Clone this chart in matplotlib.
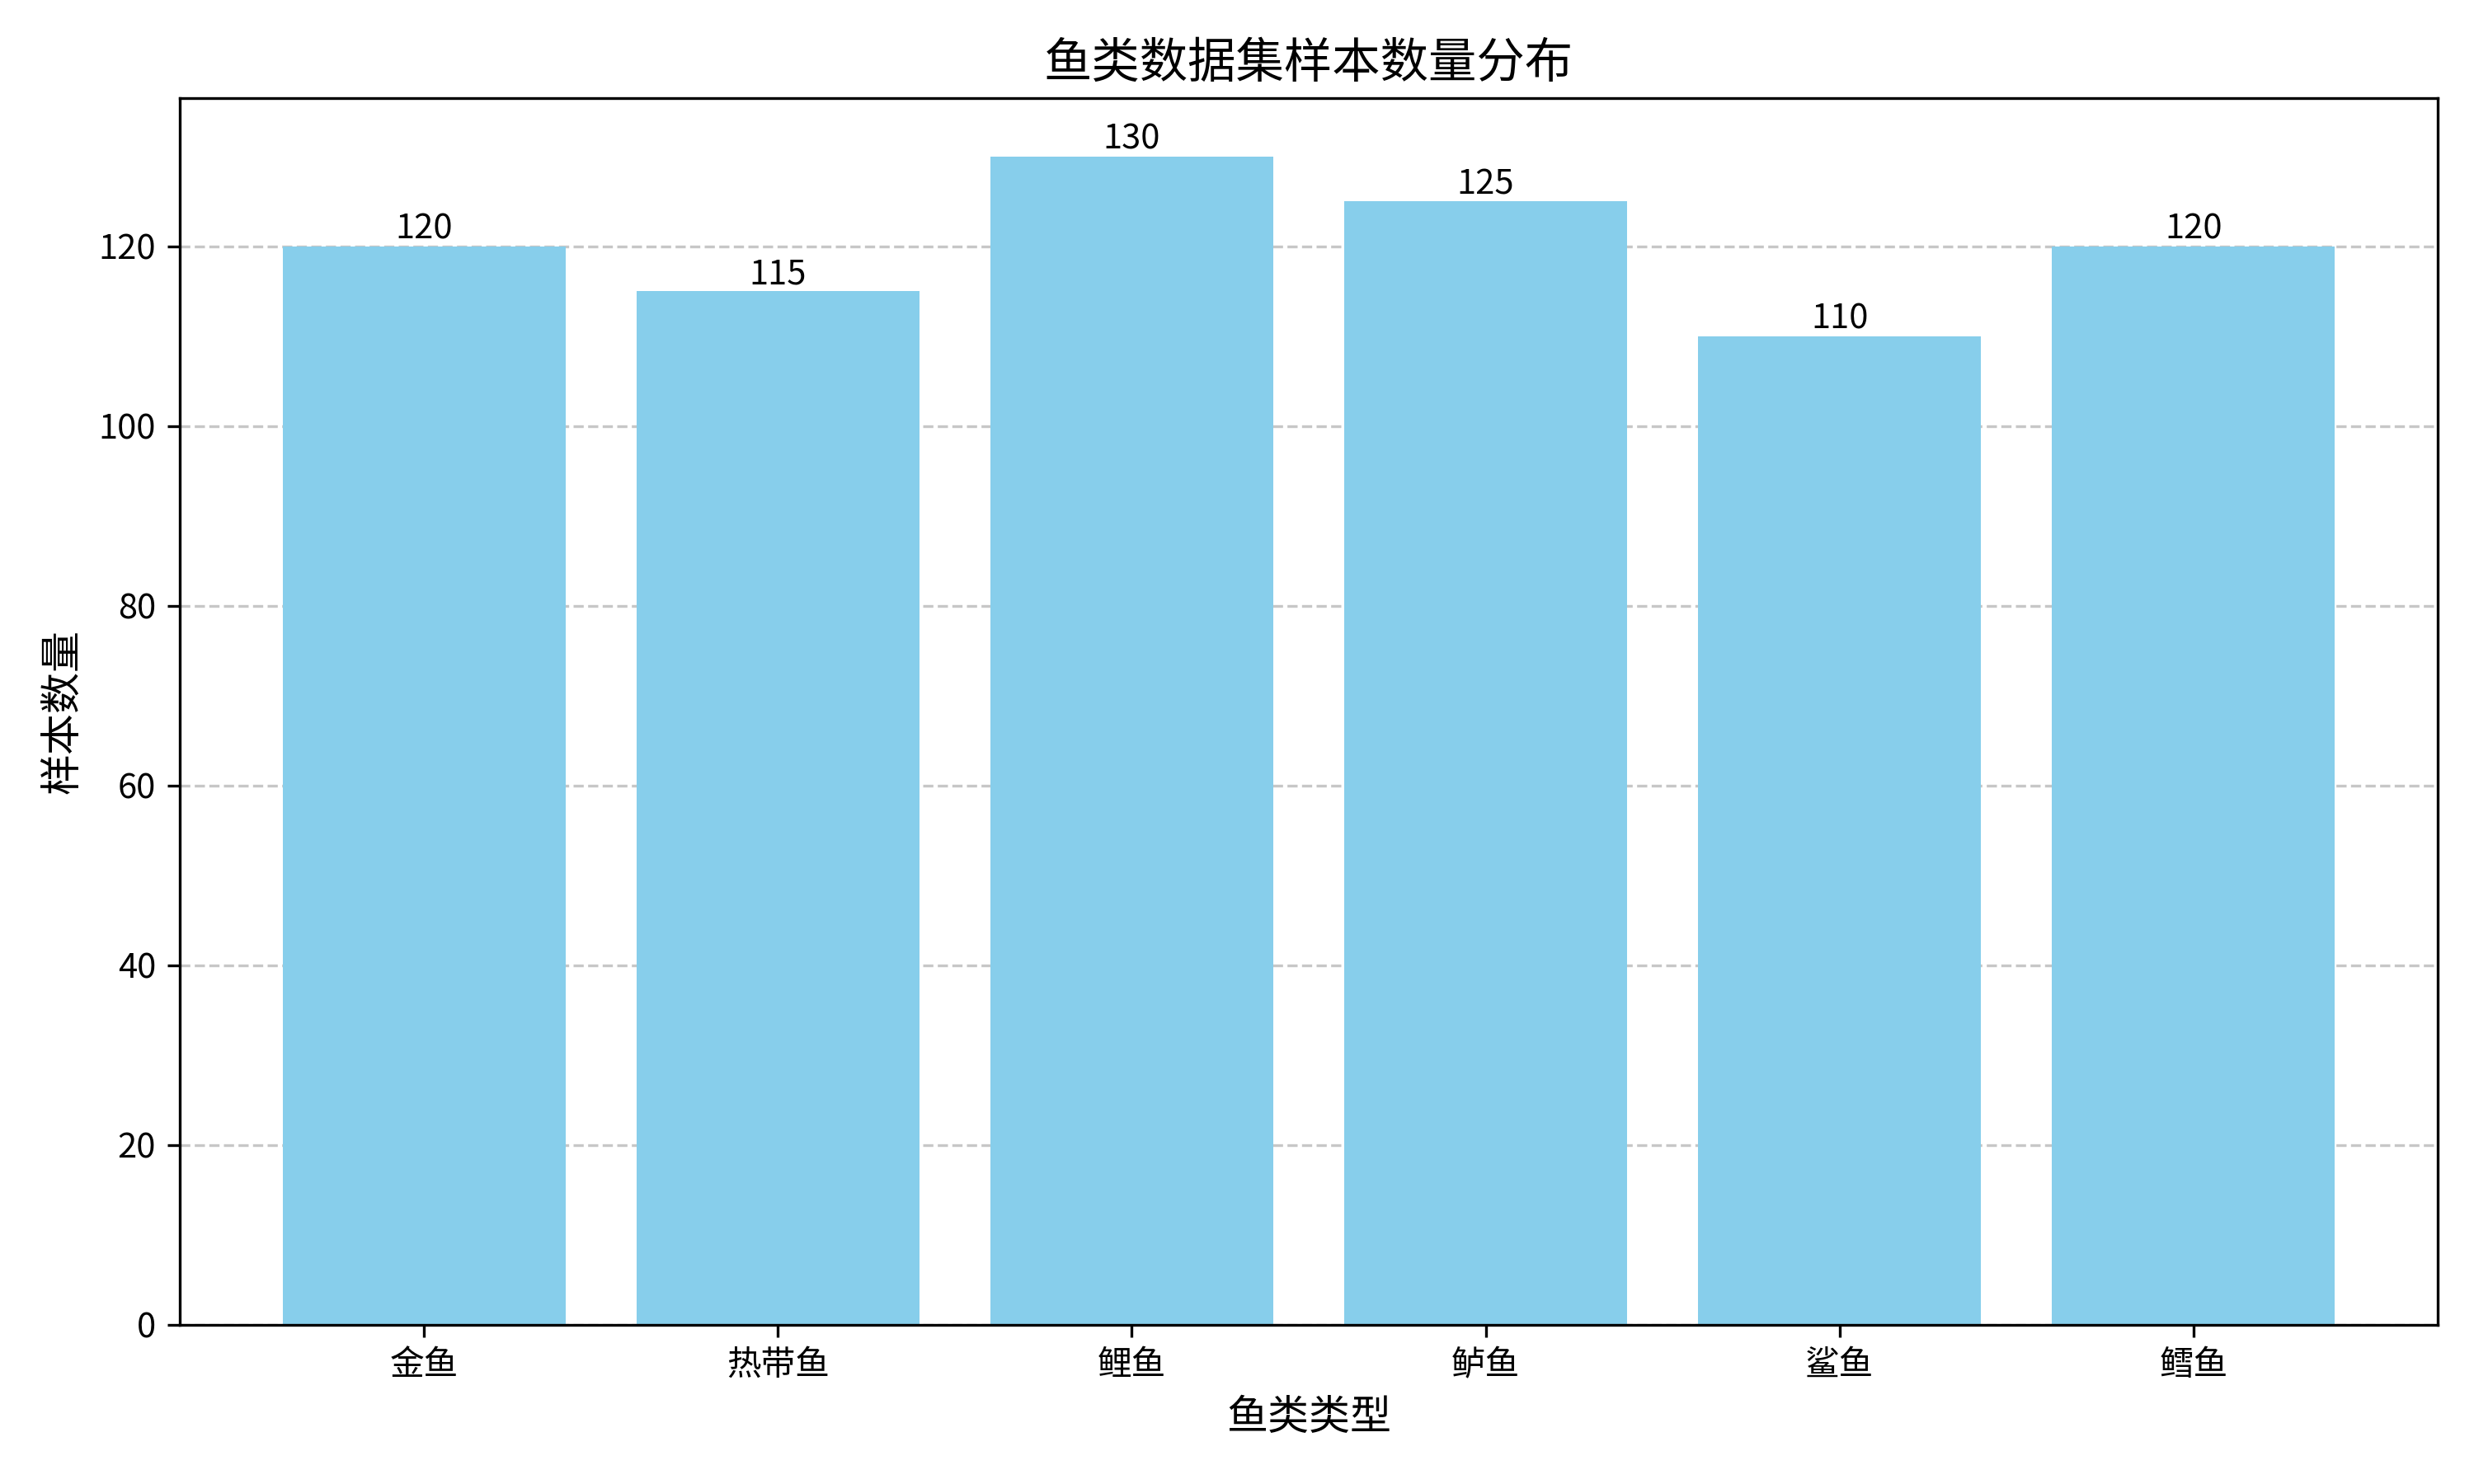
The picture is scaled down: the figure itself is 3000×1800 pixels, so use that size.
"""Fish dataset sample count bar chart."""

import matplotlib
matplotlib.use("Agg")
import matplotlib.pyplot as plt

plt.rcParams["font.family"] = ["Noto Sans CJK SC", "DejaVu Sans"]
plt.rcParams["axes.unicode_minus"] = False

fish_types = ["金鱼", "热带鱼", "鲤鱼", "鲈鱼", "鲨鱼", "鳕鱼"]
sample_counts = [120, 115, 130, 125, 110, 120]


def main() -> None:
    fig, ax = plt.subplots(figsize=(10, 6))
    bars = ax.bar(fish_types, sample_counts, color="skyblue")
    for bar, val in zip(bars, sample_counts):
        ax.text(bar.get_x() + bar.get_width() / 2, bar.get_height(), str(val),
                ha="center", va="bottom", fontsize=10)
    ax.set_title("鱼类数据集样本数量分布", fontsize=14)
    ax.set_xlabel("鱼类类型", fontsize=12)
    ax.set_ylabel("样本数量", fontsize=12)
    ax.yaxis.grid(True, linestyle="--", alpha=0.7)
    ax.set_axisbelow(True)
    fig.subplots_adjust(left=0.0727, right=0.9853, top=0.934, bottom=0.1073)
    plt.savefig("out.png", dpi=300)
    plt.close()


if __name__ == "__main__":
    main()
